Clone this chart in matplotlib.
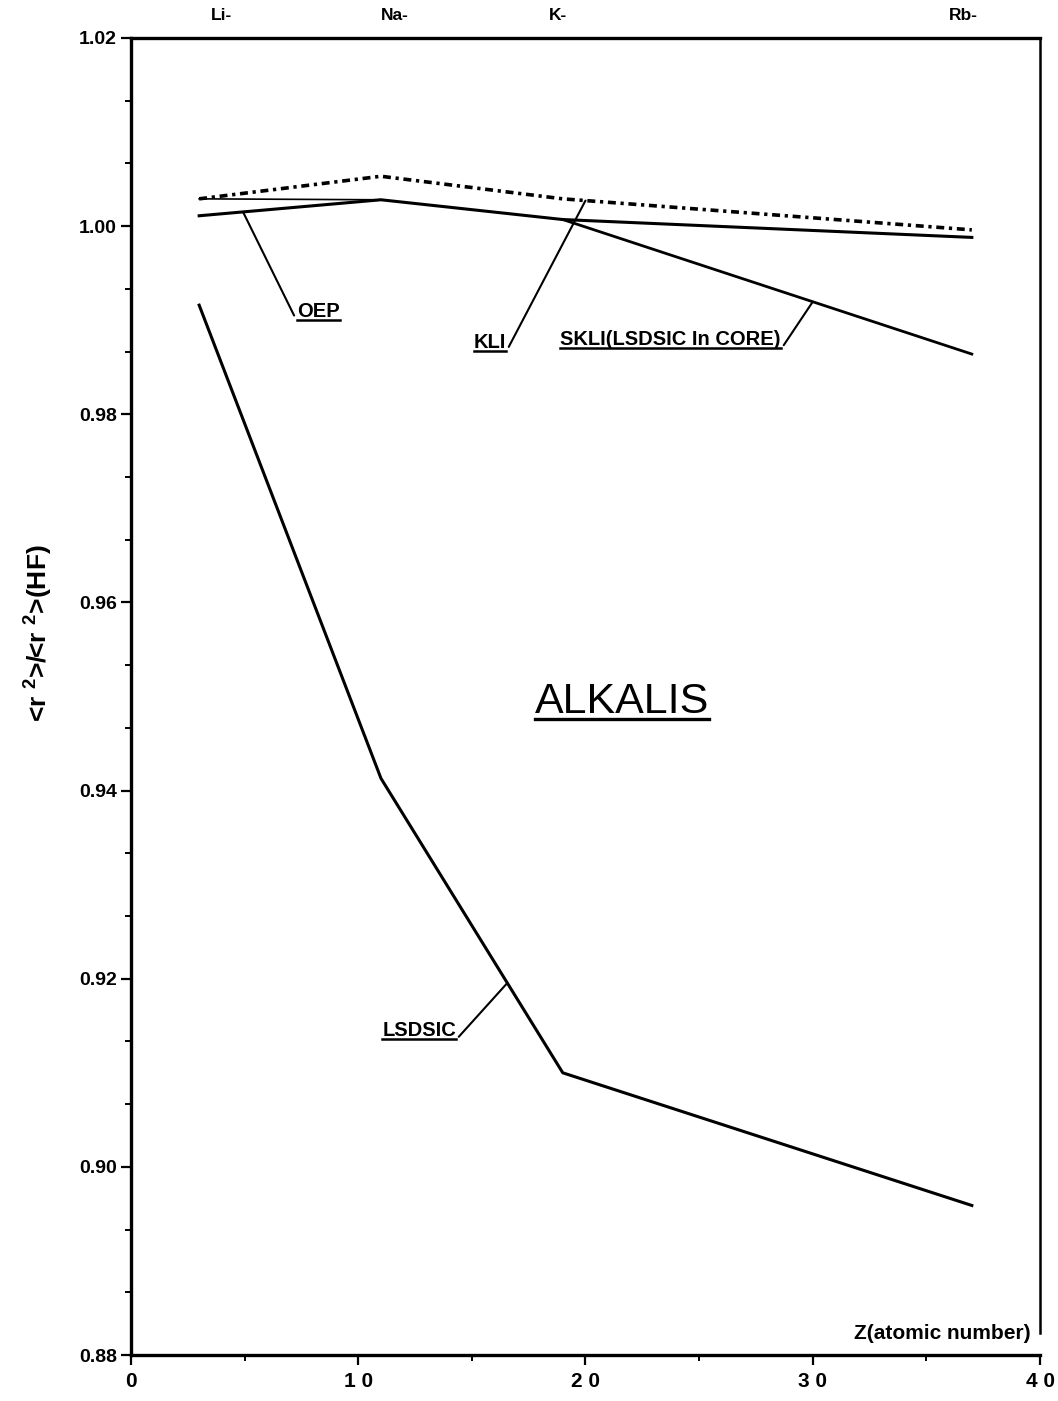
import numpy as np
import matplotlib
matplotlib.use("Agg")
import matplotlib.pyplot as plt
from matplotlib.ticker import MultipleLocator, FixedLocator
from matplotlib.transforms import blended_transform_factory
from matplotlib.text import Text

plt.rcParams['font.family'] = ['Liberation Sans', 'DejaVu Sans']
plt.rcParams['mathtext.fontset'] = 'custom'
plt.rcParams['mathtext.rm'] = 'Liberation Sans'
plt.rcParams['mathtext.it'] = 'Liberation Sans'
plt.rcParams['mathtext.bf'] = 'Liberation Sans:bold'

# ---- data ----
Z = [3, 11, 19, 37]
elements = ["Li-", "Na-", "K-", "Rb-"]
element_label_x = [3.5, 11.0, 18.4, 36.0]
kli = [1.0029, 1.0053, 1.0029, 0.9996]
oep = [1.0011, 1.0028, 1.0007, 0.9988]
skli = [1.0029, 1.0028, 1.0007, 0.9864]
lsdsic = [0.9916, 0.9413, 0.9100, 0.8959]

xticks = [0, 10, 20, 30, 40]
xticklabels = ["0", "1 0", "2 0", "3 0", "4 0"]
yticks = [0.88, 0.90, 0.92, 0.94, 0.96, 0.98, 1.00, 1.02]
yticklabels = ["0.88", "0.90", "0.92", "0.94", "0.96", "0.98", "1.00", "1.02"]

fig = plt.figure(figsize=(10.58, 14.01), dpi=100)
ax = fig.add_axes([0.1238, 0.0328, 0.983 - 0.1238, 0.9729 - 0.0328])

ax.set_xlim(0, 40)
ax.set_ylim(0.88, 1.02)

# lines
ax.plot(Z, kli, color='black', lw=2.6, linestyle=(0, (2.2, 1.3, 0.9, 1.3)))
ax.plot(Z[:2], skli[:2], color='black', lw=1.2)
ax.plot(Z[2:], skli[2:], color='black', lw=2.0)
ax.plot(Z, oep, color='black', lw=2.2)
ax.plot(Z, lsdsic, color='black', lw=2.2)

# annotations with leader lines
def interp(zz, series):
    return float(np.interp(zz, Z, series))

labels = []
def label(text, zpt, series, xtext, ytext, ha):
    t = ax.annotate(text, xy=(zpt, interp(zpt, series)), xytext=(xtext, ytext),
                    textcoords='data', ha=ha, va='bottom', fontsize=14.5, fontweight='bold',
                    arrowprops=dict(arrowstyle='-', color='black', lw=1.5,
                                    shrinkA=0, shrinkB=0,
                                    relpos=(0, 0) if ha == 'left' else (1, 0)))
    labels.append(t)

label("OEP", 4.93, oep, 7.3, 0.9899, 'left')
label("KLI", 20.0, kli, 16.5, 0.9866, 'right')
label("SKLI(LSDSIC In CORE)", 30.0, skli, 28.6, 0.9869, 'right')
label("LSDSIC", 16.56, lsdsic, 14.3, 0.9135, 'right')

alk = ax.text(21.6, 0.9473, "ALKALIS", fontsize=31, ha='center', va='bottom')
labels.append(alk)

ax.text(39.6, 0.8813, "Z(atomic number)", fontsize=15, fontweight='bold',
        ha='right', va='bottom')

# element labels above the top axis
trans = blended_transform_factory(ax.transData, ax.transAxes)
for xl, el in zip(element_label_x, elements):
    ax.text(xl, 1.011, el, transform=trans, fontsize=12.5, fontweight='bold',
            ha='left', va='bottom')

# ticks
ax.xaxis.set_major_locator(FixedLocator(xticks))
ax.set_xticklabels(xticklabels, fontsize=15, fontweight='bold')
ax.xaxis.set_minor_locator(MultipleLocator(5))
ax.yaxis.set_major_locator(FixedLocator(yticks))
ax.set_yticklabels(yticklabels, fontsize=14, fontweight='bold')
ax.yaxis.set_minor_locator(MultipleLocator(0.02 / 3))
ax.tick_params(axis='both', which='major', direction='out', length=7, width=1.6)
ax.tick_params(axis='both', which='minor', direction='out', length=4, width=1.4)
ax.tick_params(axis='x', pad=5)
ax.tick_params(axis='y', pad=3)

for s in ['left', 'bottom', 'top']:
    ax.spines[s].set_linewidth(2.4)
ax.spines['right'].set_linewidth(1.8)
ax.spines['right'].set_bounds(0.8823, 1.02)

ax.set_ylabel(r"<r $^{\mathbf{2}}$>/<r $^{\mathbf{2}}$>(HF)", fontsize=19, fontweight='bold')
ax.yaxis.set_label_coords(-0.084, 0.548)

# underline texts
fig.canvas.draw()
renderer = fig.canvas.get_renderer()
inv = ax.transAxes.inverted()
for t in labels:
    bb = Text.get_window_extent(t, renderer)
    (x0, y0), (x1, y1) = inv.transform([(bb.x0, bb.y0), (bb.x1, bb.y0)])
    lw = 2.4 if t is alk else 1.8
    off = 0.002 if t is alk else 0.0008
    ax.plot([x0, x1], [y0 + off, y1 + off], transform=ax.transAxes, color='black',
            lw=lw, clip_on=False)

fig.savefig("out.png", dpi=100)
